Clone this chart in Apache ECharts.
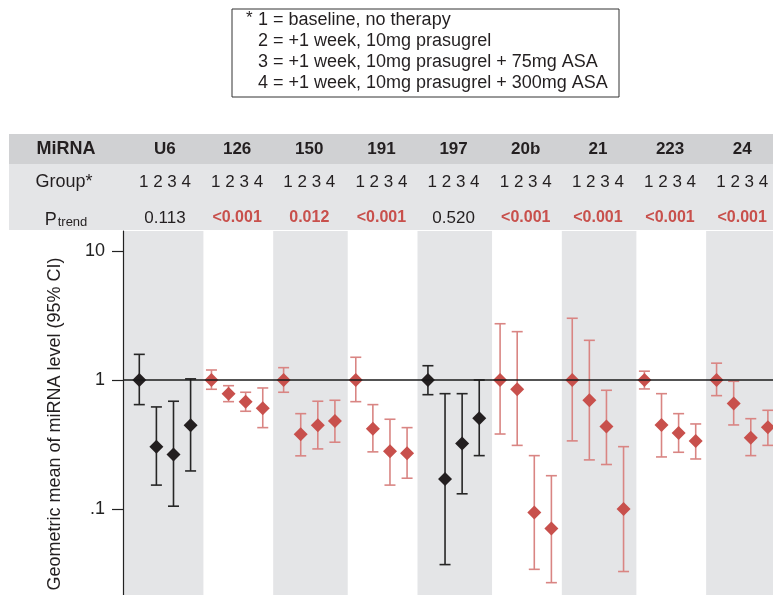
<!DOCTYPE html>
<html>
<head>
<meta charset="utf-8">
<script src="https://cdn.jsdelivr.net/npm/echarts@6/dist/echarts.min.js"></script>
<style>
  html, body { margin: 0; padding: 0; background: #fff; }
  #chart { width: 773px; height: 595px; }
</style>
</head>
<body>
<div id="chart"></div>
<script>
const mirnas = ['U6', '126', '150', '191', '197', '20b', '21', '223', '24']
const pTrend = ['0.113', '<0.001', '0.012', '<0.001', '0.520', '<0.001', '<0.001', '<0.001', '<0.001']
const significant = [false, true, true, true, false, true, true, true, true]
const groups = ['1', '2', '3', '4']
const groupNotes = [
  '1 = baseline, no therapy',
  '2 = +1 week, 10mg prasugrel',
  '3 = +1 week, 10mg prasugrel + 75mg ASA',
  '4 = +1 week, 10mg prasugrel + 300mg ASA',
]
// geometric means and 95% CI, one row per miRNA, groups 1-4
const geoMean = [
  [1.0, 0.304, 0.264, 0.446],
  [1.0, 0.783, 0.679, 0.604],
  [1.0, 0.379, 0.446, 0.481],
  [1.0, 0.419, 0.280, 0.270],
  [1.0, 0.171, 0.321, 0.505],
  [1.0, 0.847, 0.0936, 0.0704],
  [1.0, 0.696, 0.435, 0.100],
  [1.0, 0.448, 0.388, 0.337],
  [1.0, 0.656, 0.357, 0.430],
]
const ciLow = [
  [0.644, 0.153, 0.105, 0.197],
  [0.847, 0.679, 0.572, 0.427],
  [0.803, 0.258, 0.292, 0.329],
  [0.679, 0.277, 0.153, 0.173],
  [0.769, 0.037, 0.131, 0.259],
  [0.381, 0.311, 0.034, 0.0268],
  [0.337, 0.240, 0.221, 0.0327],
  [0.852, 0.253, 0.275, 0.244],
  [0.756, 0.448, 0.259, 0.311],
]
const ciHigh = [
  [1.58, 0.618, 0.684, 1.02],
  [1.195, 0.903, 0.803, 0.867],
  [1.246, 0.548, 0.684, 0.696],
  [1.50, 0.644, 0.496, 0.427],
  [1.29, 0.783, 0.783, 1.0],
  [2.73, 2.37, 0.259, 0.181],
  [3.01, 2.03, 0.832, 0.304],
  [1.17, 0.783, 0.548, 0.456],
  [1.35, 0.977, 0.501, 0.582],
]
const yTicks = [0.1, 1, 10]

const SLOT = 4.22 // x units per miRNA block (4 groups + gap)
const RED = '#c8504c'
const RED_BAR = '#d98583'
const BLACK = '#231f20'
const BLACK_BAR = '#262626'
const FONT = '"Liberation Sans", Arial, sans-serif'

const points = []
mirnas.forEach((m, i) => {
  groups.forEach((g, j) => {
    points.push({ value: [i * SLOT + j, geoMean[i][j], ciLow[i][j], ciHigh[i][j]], sig: significant[i] })
  })
})

// alternating grey bands behind every other miRNA
const bands = mirnas.map((m, i) => i).filter(i => i % 2 === 0).map(i => [
  { xAxis: i === 0 ? -5 : i * SLOT - 0.61 },
  { xAxis: i * SLOT + 3.75 },
])

const chart = echarts.init(document.getElementById('chart'))
chart.setOption({
  animation: false,
  backgroundColor: '#fff',
  grid: { left: 123, right: 0, top: 231, bottom: 0 },
  xAxis: {
    type: 'value', min: -0.953, max: 37.06,
    show: false, splitLine: { show: false },
  },
  yAxis: {
    type: 'log', min: 0.0215, max: 14.3,
    z: 10,
    axisLine: { show: true, onZero: false, lineStyle: { color: '#222', width: 1.2 } },
    axisTick: { show: true, length: 11, lineStyle: { color: '#222', width: 1.2 }, customValues: yTicks },
    axisLabel: {
      customValues: yTicks, margin: 18, color: '#222', fontSize: 18, fontFamily: FONT,
      formatter: v => (v < 1 ? String(v).replace(/^0/, '') : String(v)),
    },
    splitLine: { show: false },
  },
  series: [
    {
      type: 'scatter',
      silent: true,
      data: [],
      z: 1,
      markArea: {
        silent: true,
        itemStyle: { color: '#e4e5e7' },
        data: bands,
      },
      markLine: {
        silent: true,
        symbol: 'none',
        label: { show: false },
        lineStyle: { color: '#1a1a1a', width: 1.5, type: 'solid' },
        data: [{ yAxis: 1 }],
      },
    },
    {
      type: 'custom',
      z: 3,
      data: points,
      renderItem: (params, api) => {
        const x = api.value(0)
        const top = api.coord([x, api.value(3)])
        const bot = api.coord([x, api.value(2)])
        const sig = points[params.dataIndex].sig
        const style = { stroke: sig ? RED_BAR : BLACK_BAR, lineWidth: 1.6 }
        const hw = 5.5
        return {
          type: 'group',
          children: [
            { type: 'line', shape: { x1: top[0], y1: top[1], x2: bot[0], y2: bot[1] }, style },
            { type: 'line', shape: { x1: top[0] - hw, y1: top[1], x2: top[0] + hw, y2: top[1] }, style },
            { type: 'line', shape: { x1: bot[0] - hw, y1: bot[1], x2: bot[0] + hw, y2: bot[1] }, style },
          ],
        }
      },
    },
    {
      type: 'scatter',
      z: 4,
      symbol: 'diamond',
      symbolSize: [14, 14],
      data: points.map(p => ({ value: [p.value[0], p.value[1]], itemStyle: { color: p.sig ? RED : BLACK, opacity: 1 } })),
    },
  ],
})

// header table and group legend, placed from the chart's own x scale
const centers = mirnas.map((m, i) => chart.convertToPixel({ seriesIndex: 2 }, [i * SLOT + 1.5, 1])[0])
const rowY = [149, 182, 218]
const graphic = [
  { type: 'rect', shape: { x: 9, y: 134, width: 764, height: 30 }, style: { fill: '#d0d1d3' }, z: 0 },
  { type: 'rect', shape: { x: 9, y: 164, width: 764, height: 66 }, style: { fill: '#e4e5e7' }, z: 0 },
  { type: 'text', x: 66, y: rowY[0], style: { text: 'MiRNA', font: 'bold 18px ' + FONT, fill: '#231f20', align: 'center', verticalAlign: 'middle' }, z: 5 },
  { type: 'text', x: 64, y: rowY[1], style: { text: 'Group*', font: '18px ' + FONT, fill: '#231f20', align: 'center', verticalAlign: 'middle' }, z: 5 },
  {
    type: 'text', x: 66, y: rowY[2], z: 5,
    style: {
      text: '{p|P}{s|trend}', align: 'center', verticalAlign: 'middle',
      rich: {
        p: { font: '18px ' + FONT, fill: '#231f20', verticalAlign: 'bottom' },
        s: { font: '13px ' + FONT, fill: '#231f20', padding: [9, 0, 0, 1] },
      },
    },
  },
  // legend box
  { type: 'rect', shape: { x: 232, y: 9, width: 387, height: 88 }, style: { fill: '#fff', stroke: '#333', lineWidth: 1 }, z: 5 },
  { type: 'text', x: 246, y: 18, style: { text: '*', font: '17px ' + FONT, fill: '#231f20', align: 'left', verticalAlign: 'middle' }, z: 6 },
]
groupNotes.forEach((t, k) => {
  graphic.push({ type: 'text', x: 258, y: 20 + k * 21, z: 6, style: { text: t, font: '18px ' + FONT, fill: '#231f20', align: 'left', verticalAlign: 'middle' } })
})
centers.forEach((cx, i) => {
  graphic.push({ type: 'text', x: cx, y: rowY[0], z: 5, style: { text: mirnas[i], font: 'bold 17px ' + FONT, fill: '#231f20', align: 'center', verticalAlign: 'middle' } })
  graphic.push({ type: 'text', x: cx, y: rowY[1], z: 5, style: { text: groups.join(' '), font: '17px ' + FONT, fill: '#231f20', align: 'center', verticalAlign: 'middle' } })
  graphic.push({
    type: 'text', x: cx, y: rowY[2], z: 5,
    style: {
      text: pTrend[i],
      font: (significant[i] ? 'bold 16px ' : '17px ') + FONT,
      fill: significant[i] ? RED : '#231f20', align: 'center', verticalAlign: 'middle',
    },
  })
})
graphic.push({
  type: 'text', x: 55, y: 424, rotation: Math.PI / 2, z: 5,
  style: { text: 'Geometric mean of miRNA level (95% CI)', font: '18px ' + FONT, fill: '#231f20', align: 'center', verticalAlign: 'middle' },
})
chart.setOption({ graphic })
</script>
</body>
</html>
